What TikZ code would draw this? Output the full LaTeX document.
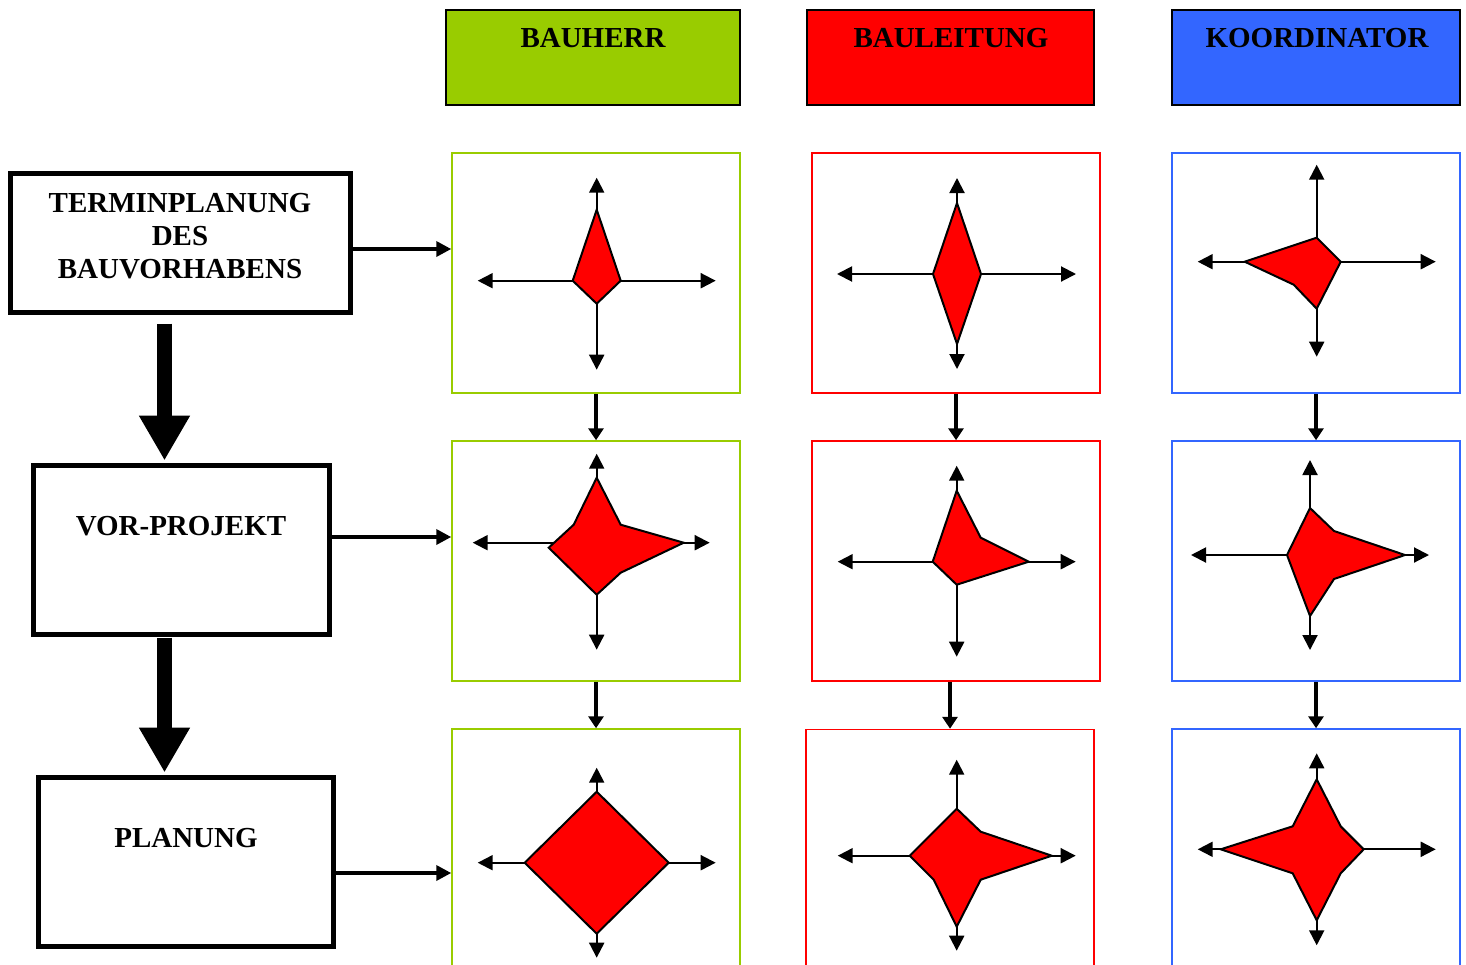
\documentclass[tikz,border=0pt]{standalone}
\usepackage{fontspec}
\setmainfont{Liberation Serif}
\usetikzlibrary{arrows.meta}
\definecolor{gruen}{RGB}{153,204,0}
\definecolor{rot}{RGB}{255,0,0}
\definecolor{blau}{RGB}{51,102,255}

\begin{document}
\begin{tikzpicture}[x=1pt,y=-1pt,
  kopf/.style={draw=black, line width=2pt, minimum height=95pt, inner sep=0pt},
  feld/.style={draw, line width=1.5pt, minimum width=288pt, minimum height=240pt, inner sep=0pt},
  links/.style={draw, line width=5pt, inner sep=0pt},
  txt/.style={font=\fontsize{29}{33}\selectfont\bfseries, align=center, inner sep=0pt},
  ach/.style={line width=2pt, {Triangle[length=15pt,width=15pt]}-{Triangle[length=15pt,width=15pt]}},
  stern/.style={fill=rot, draw=black, line width=2pt},
  pfeil/.style={line width=4.5pt, -{Triangle[length=12pt,width=15pt]}},
  hpfeil/.style={line width=3.5pt, -{Triangle[length=15pt,width=15pt]}},
  dick/.style={line width=15pt, -{Triangle[length=45pt,width=48pt]}}]
\useasboundingbox (0,0) rectangle (1466,964);
\clip (0,0) rectangle (1466,964);

% Kopfzeile
\node[kopf, fill=gruen, minimum width=294pt] (bh) at (593,57.5) {};
\node[kopf, fill=rot, minimum width=287pt] (bl) at (950.5,57.5) {};
\node[kopf, fill=blau, minimum width=288pt] (ko) at (1316,57.5) {};
\node[txt] (bh-t) at (593,38.5) {BAUHERR};
\node[txt] (bl-t) at (951,38.5) {BAULEITUNG};
\node[txt] (ko-t) at (1317,38.5) {KOORDINATOR};

% linke Spalte
\node[links, minimum width=340pt, minimum height=139pt] (term) at (180,242.5) {};
\node[links, minimum width=296pt, minimum height=169pt] (vor) at (181,549.5) {};
\node[links, minimum width=295pt, minimum height=169pt] (plan) at (185.5,861.5) {};
\node[txt] (term-t) at (180,236) {TERMINPLANUNG\\DES\\BAUVORHABENS};
\node[txt] (vor-t) at (181,526) {VOR-PROJEKT};
\node[txt] (plan-t) at (186,838) {PLANUNG};

\draw[dick] ([xshift=-15.5pt,yshift=-9pt]term.south) -- ([xshift=-15.5pt,yshift=2pt]term.south |- vor.north);
\draw[dick] ([xshift=-16.5pt,yshift=-1pt]vor.south) -- ([xshift=-16.5pt,yshift=2pt]vor.south |- plan.north);

% Felder
\node[feld, draw=gruen] (b11) at (596,273) {};
\node[feld, draw=gruen] (b21) at (596,561) {};
\node[feld, draw=gruen] (b31) at (596,849) {};
\node[feld, draw=rot] (b12) at (956,273) {};
\node[feld, draw=rot] (b22) at (956,561) {};
\node[feld, draw=rot] (b32) at (950,849.5) {};
\node[feld, draw=blau] (b13) at (1316,273) {};
\node[feld, draw=blau] (b23) at (1316,561) {};
\node[feld, draw=blau] (b33) at (1316,849) {};

\draw[hpfeil] ([yshift=-6.5pt]term.east) -- ([yshift=-6.5pt]term.east -| b11.west);
\draw[hpfeil] ([yshift=12.5pt]vor.east) -- ([yshift=12.5pt]vor.east -| b21.west);
\draw[hpfeil] ([yshift=-11.5pt]plan.east) -- ([yshift=-11.5pt]plan.east -| b31.west);

\draw[pfeil] (b11.south) -- (b21.north);
\draw[pfeil] (b21.south) -- (b31.north);
\draw[pfeil] (b12.south) -- (b22.north);
\draw[pfeil] (b22.south -| b32.north) -- (b32.north);
\draw[pfeil] (b13.south) -- (b23.north);
\draw[pfeil] (b23.south) -- (b33.north);

% Sterne
\begin{scope}[shift={(596.7,280.7)}]
\draw[ach] (-119,0) -- (119,0);
\draw[ach] (0,-103) -- (0,89);
\filldraw[stern] (0,-71) -- (24,0) -- (0,23) -- (-24,0) -- cycle;
\end{scope}
\begin{scope}[shift={(957,274)}]
\draw[ach] (-120,0) -- (119,0);
\draw[ach] (0,-96) -- (0,95);
\filldraw[stern] (0,-71) -- (24,0) -- (0,70) -- (-24,0) -- cycle;
\end{scope}
\begin{scope}[shift={(1316.7,261.7)}]
\draw[ach] (-119,0) -- (119,0);
\draw[ach] (0,-97) -- (0,95);
\filldraw[stern] (0,-24) -- (24,0) -- (0,47) -- (-23,23) -- (-72,0) -- cycle;
\end{scope}

\begin{scope}[shift={(596.7,542.7)}]
\draw[ach] (-124,0) -- (113,0);
\draw[ach] (0,-89) -- (0,107);
\filldraw[stern] (0,-65) -- (24,-18) -- (87,0) -- (24,30) -- (0,52) -- (-48,5) -- (-23,-18) -- cycle;
\end{scope}
\begin{scope}[shift={(956.7,561.7)}]
\draw[ach] (-119,0) -- (119,0);
\draw[ach] (0,-96) -- (0,95);
\filldraw[stern] (0,-71) -- (24,-24) -- (72,0) -- (0,23) -- (-24,0) -- cycle;
\end{scope}
\begin{scope}[shift={(1310,555)}]
\draw[ach] (-119,0) -- (119,0);
\draw[ach] (0,-95) -- (0,95);
\filldraw[stern] (0,-47) -- (24,-24) -- (95,0) -- (24,24) -- (0,61) -- (-23,0) -- cycle;
\end{scope}

\begin{scope}[shift={(596.7,862.7)}]
\draw[ach] (-119,0) -- (119,0);
\draw[ach] (0,-95) -- (0,95);
\filldraw[stern] (0,-71) -- (72,0) -- (0,71) -- (-72,0) -- cycle;
\end{scope}
\begin{scope}[shift={(956.7,855.7)}]
\draw[ach] (-119,0) -- (119,0);
\draw[ach] (0,-96) -- (0,95);
\filldraw[stern] (0,-47) -- (24,-24) -- (95,0) -- (24,24) -- (0,71) -- (-23,24) -- (-47,0) -- cycle;
\end{scope}
\begin{scope}[shift={(1316.7,849.3)}]
\draw[ach] (-119,0) -- (119,0);
\draw[ach] (0,-96) -- (0,96);
\filldraw[stern] (0,-70) -- (24,-23) -- (47,0) -- (24,24) -- (0,71) -- (-24,24) -- (-96,0) -- (-24,-23) -- cycle;
\end{scope}

\end{tikzpicture}
\end{document}
